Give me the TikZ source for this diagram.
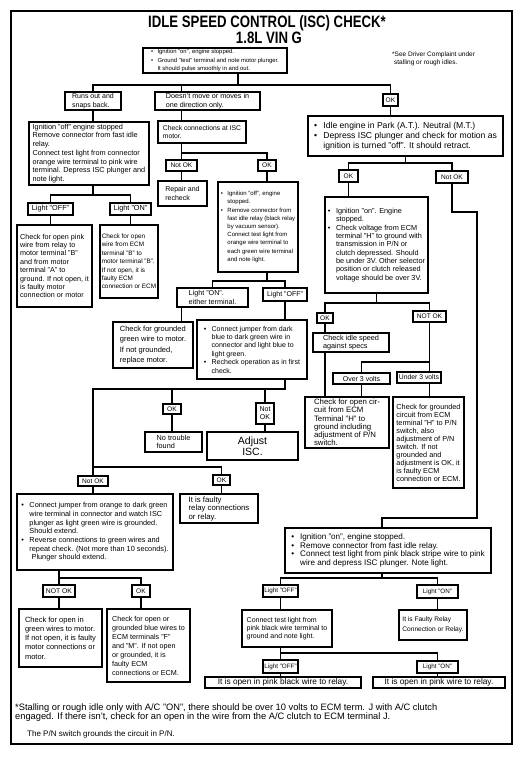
\documentclass[tikz,border=0pt]{standalone}
\usepackage{fontspec}
\setmainfont{Liberation Sans}
\usepackage{graphicx}

\newcommand{\bul}{\makebox[1.1em][l]{\textbullet}}
\newcommand{\ind}{\hspace*{1.1em}}

\tikzset{
  box/.style={draw, line width=1.1pt, align=left, inner sep=1pt},
  tag/.style={draw, line width=1.1pt, align=center, inner xsep=1pt, inner ysep=0.5pt,
    font=\fontsize{6.6}{7.6}\selectfont},
  wh/.style 2 args={minimum width=#1pt, minimum height=#2pt},
  sz/.style 2 args={font=\fontsize{#1}{#2}\selectfont},
  link/.style={line width=1.1pt},
}

\begin{document}
\begin{tikzpicture}[x=1pt, y=-1pt]
  \useasboundingbox (0,0) rectangle (524,761);
  \draw[line width=2.2pt] (11,11) rectangle (512,744);

  % title
  \node[anchor=base] (title) at (267,27)
    {\fontsize{16.5}{18}\selectfont\bfseries\scalebox{0.8}[1]{IDLE SPEED CONTROL (ISC) CHECK*}};
  \node[anchor=base] (vin) at (269,43)
    {\fontsize{16.5}{18}\selectfont\bfseries\scalebox{0.8}[1]{1.8L VIN G}};
  \node[anchor=north west, align=left, inner sep=0pt, sz={6.5}{7.8}] (note) at (392,52)
    {*See Driver Complaint under\\\hspace*{0.3em}stalling or rough idles.};

  % first check
  \node[box, wh={144}{25}, sz={5.9}{8.2}] (top) at (215,60.5)
    {\bul Ignition "on", engine stopped.\\\bul Ground "test" terminal and note motor plunger.\\\ind It should pulse smoothly in and out.};
  \node[box, wh={56}{18}, sz={7}{8.4}] (runs) at (93,101) {Runs out and\\snaps back.};
  \node[box, wh={105}{18}, sz={7.2}{8.4}] (doesnt) at (207.5,101) {Doesn't move or moves in\\one direction only.};
  \node[tag, wh={15}{12}] (oka) at (390.5,100) {OK};

  % left column
  \node[box, wh={120}{63}, sz={7.3}{8.7}] (bl1) at (89,153.5)
    {Ignition "off" engine stopped\\Remove connector from fast idle\\relay.\\Connect test light from connector\\orange wire terminal to pink wire\\terminal. Depress ISC plunger and\\note light.};
  \node[tag, wh={45}{12}, sz={7.3}{8}] (lightoffl) at (50.5,209) {Light "OFF"};
  \node[tag, wh={41}{12}, sz={7.3}{8}] (lightonl) at (130.5,209) {Light "ON"};
  \node[box, wh={75}{82}, sz={7.2}{8.4}] (l2a) at (54.5,266)
    {Check for open pink\\wire from relay to\\motor terminal "B"\\and from motor\\terminal "A" to\\ground. If not open, it\\is faulty motor\\connection or motor};
  \node[box, wh={58}{73}, sz={6.4}{8.4}] (l2b) at (129,261.5)
    {Check for open\\wire from ECM\\terminal "B" to\\motor terminal "B".\\If not open, it is\\faulty ECM\\connection or ECM};

  % middle column
  \node[box, wh={88}{22}, sz={6.8}{8.2}] (check) at (202,132) {Check connections at ISC\\motor.};
  \node[tag, wh={31}{11}] (notokm) at (181.5,165.5) {Not OK};
  \node[tag, wh={18}{11}] (okm) at (267,165.5) {OK};
  \node[box, wh={49}{25}, sz={7}{8.4}] (repair) at (182.5,193.5) {Repair and\\recheck};
  \node[box, wh={80}{90}, sz={6}{8.2}] (bm1) at (258,227)
    {\bul Ignition "off", engine\\\ind stopped.\\\bul Remove connector from\\\ind fast idle relay (black relay\\\ind by vacuum sensor).\\\ind Connect test light from\\\ind orange wire terminal to\\\ind each green wire terminal\\\ind and note light.};
  \node[box, wh={71}{19}, sz={7.2}{8.2}] (lightonm) at (212.5,297.5) {Light "ON".\\either terminal.};
  \node[tag, wh={44}{13}, sz={7}{8}] (lightoffm) at (285,294.5) {Light "OFF"};
  \node[box, wh={80}{46}, sz={7.5}{10.5}] (gg) at (153,345)
    {Check for grounded\\green wire to motor.\\If not grounded,\\replace motor.};
  \node[box, wh={110}{59}, sz={7}{8.4}] (jumper) at (252,349.5)
    {\bul Connect jumper from dark\\\ind blue to dark green wire in\\\ind connector and light blue to\\\ind light green.\\\bul Recheck operation as in first\\\ind check.};
  \node[tag, wh={18}{10}] (okn) at (172,409) {OK};
  \node[tag, wh={18}{21}, sz={7}{8}] (notokn) at (265,413.5) {Not\\OK};
  \node[box, wh={57}{20}, sz={7.3}{8.4}] (notrouble) at (173.5,442) {No trouble\\found};
  \node[box, align=center, wh={91}{28}, sz={10.5}{11}] (adjust) at (252.5,446) {Adjust\\ISC.};
  \node[tag, wh={30}{10}] (notokl) at (93,481) {Not OK};
  \node[tag, wh={17}{10}] (okr2) at (221.5,480) {OK};
  \node[box, wh={156}{76}, sz={7.3}{8.7}] (orange) at (95,532)
    {\bul Connect jumper from orange to dark green\\\ind wire terminal in connector and watch ISC\\\ind plunger as light green wire is grounded.\\\ind Should extend.\\\bul Reverse connections to green wires and\\\ind repeat check. (Not more than 10 seconds).\\\ind\hspace*{0.3em}Plunger should extend.};
  \node[box, wh={78}{29}, sz={7.8}{8.5}] (relay) at (219,508.5) {It is faulty\\relay connections\\or relay.};
  \node[tag, wh={32}{12}, sz={6.8}{8}] (notokb) at (59,591) {NOT OK};
  \node[tag, wh={18}{12}] (okb2) at (141,591) {OK};
  \node[box, wh={83}{58}, sz={7.5}{9.3}] (greenopen) at (60.5,638)
    {Check for open in\\green wires to motor.\\If not open, it is faulty\\motor connections or\\motor.};
  \node[box, wh={83}{73}, sz={7.2}{9}] (blue) at (148.5,645.5)
    {Check for open or\\grounded blue wires to\\ECM terminals "F"\\and "M". If not open\\or grounded, it is\\faulty ECM\\connections or ECM.};

  % right column
  \node[box, wh={195}{40}, sz={8.6}{10}] (idle) at (405.5,136)
    {\bul Idle engine in Park (A.T.). Neutral (M.T.)\\\bul Depress ISC plunger and check for motion as\\\ind ignition is turned "off". It should retract.};
  \node[tag, wh={19}{12}] (okb) at (348.5,176) {OK};
  \node[tag, wh={32}{12}] (notokr) at (452,177) {Not OK};
  \node[box, wh={103}{96}, sz={7.3}{8.3}] (ign1) at (376.5,245)
    {\bul Ignition "on". Engine\\\ind stopped.\\\bul Check voltage from ECM\\\ind terminal "H" to ground with\\\ind transmission in P/N or\\\ind clutch depressed. Should\\\ind be under 3V. Other selector\\\ind position or clutch released\\\ind voltage should be over 3V.};
  \node[tag, wh={16}{10}] (okc) at (325,318) {OK};
  \node[tag, wh={33}{11}] (notokc) at (429.5,316.5) {NOT OK};
  \node[box, wh={76}{19}, sz={7.3}{8.4}] (spec) at (351,342.5) {Check idle speed\\against specs};
  \node[tag, wh={57}{11}, sz={7}{8}] (over3) at (361.5,378.5) {Over 3 volts};
  \node[tag, wh={44}{11}, sz={6.8}{8}] (under3) at (419,377.5) {Under 3 volts};
  \node[box, wh={84}{51}, sz={7.8}{8.2}] (openckt) at (347,422.5)
    {Check for open cir-\\cuit from ECM\\Terminal "H" to\\ground including\\adjustment of P/N\\switch.};
  \node[box, wh={71}{91}, sz={7.3}{8}] (grounded) at (428.5,442.5)
    {Check for grounded\\circuit from ECM\\terminal "H" to P/N\\switch, also\\adjustment of P/N\\switch. If not\\grounded and\\adjustment is OK, it\\is faulty ECM\\connection or ECM.};
  \node[box, wh={206}{45}, sz={8.1}{8.7}] (ign2) at (388,550.5)
    {\bul Ignition "on", engine stopped.\\\bul Remove connector from fast idle relay.\\\bul Connect test light from pink black stripe wire to pink\\\ind wire and depress ISC plunger. Note light.};
  \node[tag, wh={35}{12}, sz={6.3}{7.5}] (lightoffb1) at (280.5,591) {Light "OFF"};
  \node[tag, wh={41}{13}, sz={6.3}{7.5}] (lightonb1) at (437.5,591.5) {Light "ON"};
  \node[box, wh={90}{37}, sz={7}{8.3}] (conntest) at (287,628.5)
    {Connect test light from\\pink black wire terminal to\\ground and note light.};
  \node[box, wh={68}{30}, sz={6.6}{9.5}] (faultyrelay) at (433,625)
    {It is Faulty Relay\\Connection or Relay.};
  \node[tag, wh={35}{13}, sz={6.3}{7.5}] (lightoffb2) at (280.5,666.5) {Light "OFF"};
  \node[tag, wh={41}{12}, sz={6.3}{7.5}] (lightonb2) at (437.5,667) {Light "ON"};
  \node[tag, wh={156}{11}, sz={8.3}{9}] (openpb) at (283,682.5) {It is open in pink black wire to relay.};
  \node[tag, wh={132}{11}, sz={8.3}{9}] (openp) at (439,682.5) {It is open in pink wire to relay.};

  % footnotes
  \node[anchor=base west, inner sep=0pt, sz={9.3}{9.4}] (foot1) at (15,710)
    {*Stalling or rough idle only with A/C "ON", there should be over 10 volts to ECM term. J with A/C clutch};
  \node[anchor=base west, inner sep=0pt, sz={9.3}{9.4}] (foot2) at (15,719.5)
    {engaged. If there isn't, check for an open in the wire from the A/C clutch to ECM terminal J.};
  \node[anchor=base west, inner sep=0pt, sz={8}{9}] (foot3) at (27,736)
    {The P/N switch grounds the circuit in P/N.};

  % bus lines
  \coordinate (b1) at (238,85);
  \coordinate (b2) at (0,195);
  \coordinate (b3) at (0,163);
  \coordinate (b4) at (0,303);
  \coordinate (b5) at (0,389);
  \coordinate (b6) at (0,467);
  \coordinate (b7) at (477,212);
  \coordinate (b8) at (382,518);
  \coordinate (b9) at (0,362);
  \coordinate (b10) at (0,153);
  \coordinate (b11) at (0,281);
  \coordinate (b12) at (0,578);
  \coordinate (b13) at (0,653);

  % connectors, left and middle
  \draw[link] (top.south -| b1) -- (b1);
  \draw[link] (runs.north) |- (oka.north |- b1) -- (oka.north);
  \draw[link] (doesnt.north -| notokm) -- (notokm |- b1);
  \draw[link] (runs.south) -- (runs.south |- bl1.north);
  \draw[link] (bl1.south -| runs) -- (runs |- b2);
  \draw[link] (lightoffl.north) |- (lightonl.north |- b2) -- (lightonl.north);
  \draw[link] (lightoffl.south) -- (lightoffl.south |- l2a.north);
  \draw[link] (lightonl.south) -- (lightonl.south |- l2b.north);
  \draw[link] (doesnt.south -| notokm) -- (check.north -| notokm);
  \draw[link] (check.south -| notokm) -- (notokm.north);
  \draw[link] (notokm |- b10) -| (okm.north);
  \draw[link] (notokm.south) -- (notokm.south |- repair.north);
  \draw[link] (okm.south) -- (okm.south |- bm1.north);
  \draw[link] (bm1.south -| okm) -- (okm |- b11);
  \draw[link] (lightonm.north) |- (lightoffm.north |- b11) -- (lightoffm.north);
  \draw[link] (lightonm.south -| notokm) -- (gg.north -| notokm);
  \draw[link] (lightoffm.south) -- (lightoffm.south |- jumper.north);
  \draw[link] (jumper.south -| lightoffm) -- (lightoffm |- b5) -- (notokl |- b5) -- (notokl.north);
  \draw[link] (okn.north) -- (okn |- b5);
  \draw[link] (notokn.north) -- (notokn |- b5);
  \draw[link] (okn.south) -- (okn.south |- notrouble.north);
  \draw[link] (notokn.south) -- (notokn.south |- adjust.north);
  \draw[link] (notokl |- b6) -| (okr2.north);
  \draw[link] (okr2.south) -- (okr2.south |- relay.north);
  \draw[link] (notokl.south) -- (notokl.south |- orange.north);
  \draw[link] (orange.south -| notokb) -- (notokb.north);
  \draw[link] (notokb |- b12) -| (okb2.north);
  \draw[link] (notokb.south) -- (notokb.south |- greenopen.north);
  \draw[link] (okb2.south) -- (okb2.south |- blue.north);

  % connectors, right
  \draw[link] (oka.south) -- (oka.south |- idle.north);
  \draw[link] (idle.south) -- (idle.south |- b3);
  \draw[link] (okb.north) |- (notokr.north |- b3) -- (notokr.north);
  \draw[link] (okb.south) -- (okb.south |- ign1.north);
  \draw[link] (notokr.south) |- (b7) |- (b8) -- (ign2.north -| b8);
  \draw[link] (ign1.south) -- (ign1.south |- b4);
  \draw[link] (okc.north) |- (notokc.north |- b4) -- (notokc.north);
  \draw[link] (okc.south) -- (okc.south |- spec.north);
  \draw[link] (spec.south -| okc) -- (openckt.north -| okc);
  \draw[link] (notokc.south) -- (notokc.south |- under3.north);
  \draw[link] (over3.north) |- (notokc |- b9);
  \draw[link] (over3.south) -- (over3.south |- openckt.north);
  \draw[link] (under3.south -| notokc) -- (grounded.north -| notokc);
  \draw[link] (ign2.south -| b8) -- (b8 |- b12);
  \draw[link] (lightoffb1.north) |- (lightonb1.north |- b12) -- (lightonb1.north);
  \draw[link] (lightoffb1.south) -- (lightoffb1.south |- conntest.north);
  \draw[link] (lightonb1.south) -- (lightonb1.south |- faultyrelay.north);
  \draw[link] (conntest.south -| lightoffb1) -- (lightoffb1 |- b13);
  \draw[link] (lightoffb2.north) |- (lightonb2.north |- b13) -- (lightonb2.north);
  \draw[link] (lightoffb2.south) -- (lightoffb2.south |- openpb.north);
  \draw[link] (lightonb2.south) -- (lightonb2.south |- openp.north);
\end{tikzpicture}
\end{document}
